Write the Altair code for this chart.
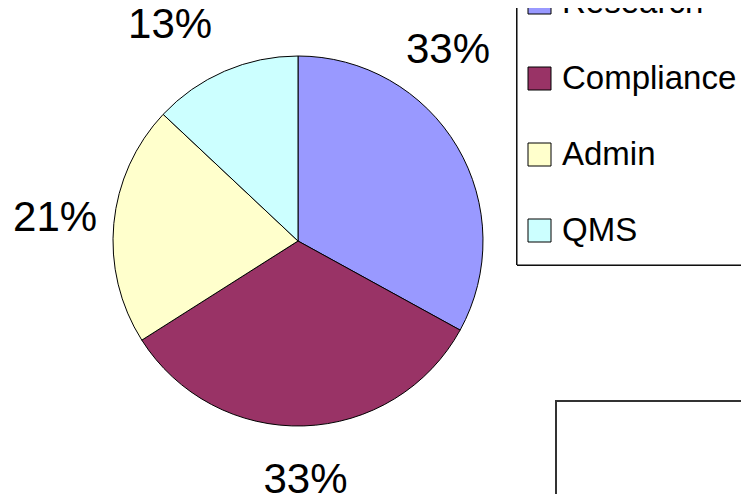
import altair as alt
import pandas as pd

categories = ["Research", "Compliance", "Admin", "QMS"]
values = [33, 33, 21, 13]
labels = ["33%", "33%", "21%", "13%"]
colors = ["#9999FF", "#993366", "#FFFFCC", "#CCFFFF"]

df = pd.DataFrame({
    "category": categories,
    "value": values,
    "label": labels,
    "order": list(range(len(categories))),
})

FONT = "Liberation Sans"
CX, CY, R = 290, 233, 185

color_scale = alt.Scale(domain=categories, range=colors)

base = alt.Chart(df).encode(
    theta=alt.Theta("value:Q", stack=True),
    order=alt.Order("order:Q"),
)

pie = base.mark_arc(outerRadius=R, stroke="black", strokeWidth=1).encode(
    x=alt.value(CX), y=alt.value(CY),
    color=alt.Color(
        "category:N", scale=color_scale, sort=categories,
        legend=alt.Legend(
            title=None, orient="none", legendX=515, legendY=-22,
            symbolType="square", symbolSize=529, symbolStrokeColor="black",
            symbolStrokeWidth=1,
            labelFont=FONT, labelFontSize=33, labelColor="black",
            labelOffset=6, rowPadding=42, padding=0,
            strokeColor="transparent", labelLimit=400,
        ),
    ),
)

def text_layer(cats, radius=244, dx=0, dy=0):
    return base.mark_text(
        radius=radius, font=FONT, fontSize=42, color="black",
        align="center", baseline="middle", dx=dx, dy=dy,
    ).encode(
        x=alt.value(CX), y=alt.value(CY), text="label:N",
        opacity=alt.condition(
            alt.FieldOneOfPredicate(field="category", oneOf=cats),
            alt.value(1), alt.value(0),
        ),
    )

lbl_admin = text_layer(["Admin"])
lbl_compliance = text_layer(["Compliance"], radius=239)
lbl_research = text_layer(["Research"], dx=-60, dy=-67)
lbl_qms = text_layer(["QMS"], dx=-31, dy=8)

legend_box = alt.Chart(df).mark_rect(fill="white", stroke="black", strokeWidth=1).encode(
    x=alt.value(509), x2=alt.value(780), y=alt.value(-20), y2=alt.value(257)
)
box = alt.Chart(df).mark_rect(fill="white", stroke="#333333", strokeWidth=2).encode(
    x=alt.value(548), x2=alt.value(780), y=alt.value(393), y2=alt.value(540)
)

chart = alt.layer(legend_box, pie, lbl_admin, lbl_compliance,
                  lbl_research, lbl_qms, box).properties(
    width=733, height=486, padding=0,
    autosize=alt.AutoSizeParams(type="none"),
).configure_view(stroke=None)

chart.save("out.html", embed_options={"renderer": "svg", "actions": False})
